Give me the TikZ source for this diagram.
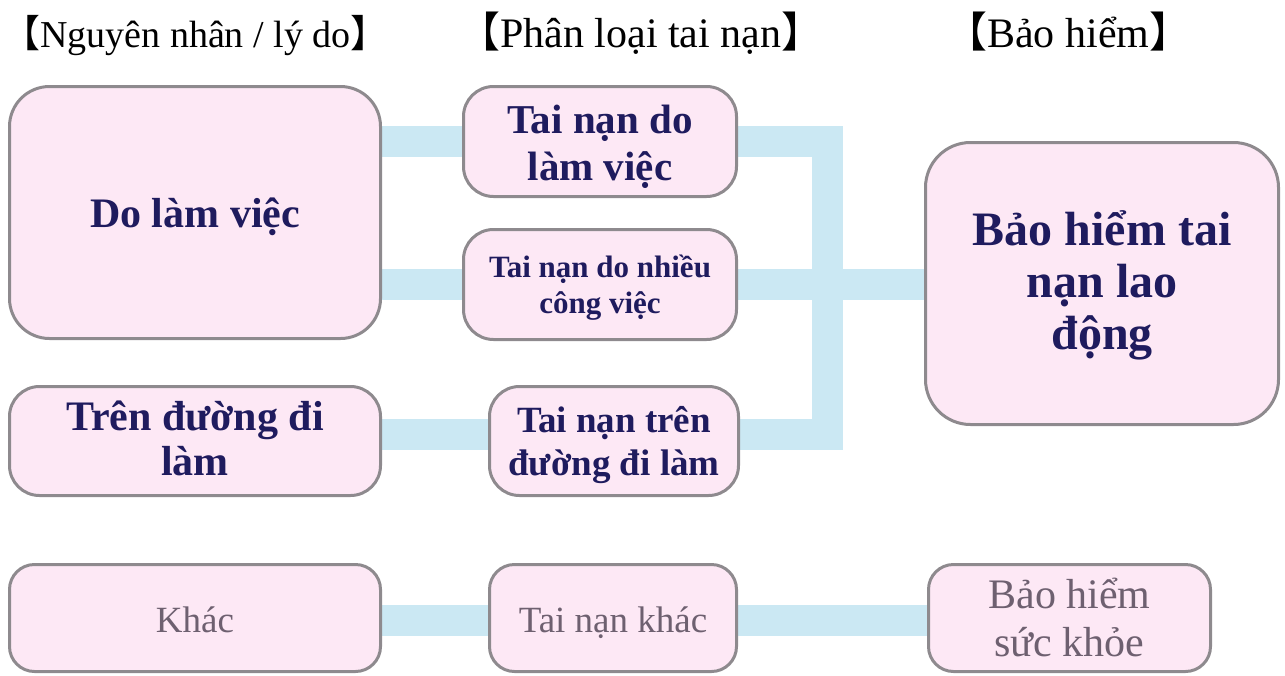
\documentclass[tikz,border=0pt]{standalone}
\usepackage{fontspec}
\setmainfont{Liberation Serif}
\newfontfamily\cjkbr{Noto Sans CJK SC}
\usetikzlibrary{backgrounds}
\definecolor{navy}{RGB}{31,27,94}
\definecolor{boxfill}{RGB}{253,232,245}
\definecolor{boxline}{RGB}{142,138,142}
\definecolor{bandblue}{RGB}{203,232,243}
\definecolor{softtext}{RGB}{110,96,112}
\newcommand\topstrut[1]{\rule{0pt}{#1}}
\newcommand\botstrut[1]{\rule[-#1]{0pt}{#1}}
\begin{document}
\begin{tikzpicture}[x=1pt,y=-1pt,
  box/.style={draw=boxline, line width=3pt, fill=boxfill, rounded corners=30pt,
    inner sep=0pt, align=center, text=navy},
  softbox/.style={box, text=softtext, font=\fontsize{37}{44}\selectfont, rounded corners=25pt},
  titletext/.style={inner sep=0pt, anchor=base west, text=black},
  conn/.style={draw=bandblue, line width=31pt, line join=miter, line cap=butt}]
\useasboundingbox (0,0) rectangle (1285,675);

% titles
\node[titletext, font=\fontsize{38}{44}\selectfont] (t1) at (2,47) {{\cjkbr 【}Nguyên nhân / lý do{\cjkbr 】}};
\node[titletext, font=\fontsize{42}{48}\selectfont] (t2) at (458,47) {{\cjkbr 【}Phân loại tai nạn{\cjkbr 】}};
\node[titletext, font=\fontsize{42}{48}\selectfont] (t3) at (945,47) {{\cjkbr 【}Bảo hiểm{\cjkbr 】}};

% boxes
\node[box, rounded corners=40pt, minimum width=371pt, minimum height=252pt,
  font=\fontsize{42}{49}\selectfont\bfseries] (A) at (195,212.5)
  {\topstrut{40pt}Do làm việc\botstrut{11pt}};
\node[box, minimum width=273pt, minimum height=110pt,
  font=\fontsize{41}{47}\selectfont\bfseries] (B) at (600,141.5)
  {\topstrut{40pt}Tai nạn do\\làm việc\botstrut{10pt}};
\node[box, minimum width=273pt, minimum height=110pt,
  font=\fontsize{31}{36}\selectfont\bfseries] (C) at (600,284.5)
  {\topstrut{32pt}Tai nạn do nhiều\\công việc\botstrut{11pt}};
\node[box, minimum width=371pt, minimum height=109pt,
  font=\fontsize{42}{45}\selectfont\bfseries] (D) at (195,441)
  {\topstrut{40pt}Trên đường đi\\làm\botstrut{17pt}};
\node[box, minimum width=249pt, minimum height=109pt,
  font=\fontsize{37}{43}\selectfont\bfseries] (E) at (614,441)
  {\topstrut{40pt}Tai nạn trên\\đường đi làm\botstrut{15pt}};
\node[box, rounded corners=45pt, minimum width=353pt, minimum height=282pt,
  font=\fontsize{48}{52}\selectfont\bfseries] (F) at (1102,283.5)
  {\topstrut{48pt}Bảo hiểm tai\\nạn lao\\động\botstrut{21pt}};

\node[softbox, minimum width=371pt, minimum height=107pt] (G) at (195,618)
  {\topstrut{40pt}Khác\botstrut{12pt}};
\node[softbox, minimum width=247pt, minimum height=107pt] (H) at (613,618)
  {\topstrut{40pt}Tai nạn khác\botstrut{12pt}};
\node[softbox, minimum width=282pt, minimum height=107pt,
  font=\fontsize{42}{48}\selectfont] (I) at (1069.5,618)
  {\topstrut{42pt}Bảo hiểm\\sức khỏe\botstrut{14pt}};

\coordinate (J) at (827.5,282);

\begin{scope}[on background layer]
  \draw[conn] (A.east |- B.west) -- (B.west);
  \draw[conn] (A.east |- C.west) -- (C.west);
  \draw[conn] ([yshift=7pt]D.east) -- ([yshift=7pt]E.west);
  \draw[conn] (B.east) -| (J) |- ([yshift=7pt]E.east);
  \draw[conn] (C.east) -- (C.east -| F.west);
  \draw[conn] ([yshift=-2pt]G.east) -- ([yshift=-2pt]H.west);
  \draw[conn] ([yshift=-2pt]H.east) -- ([yshift=-2pt]I.west);
\end{scope}
\end{tikzpicture}
\end{document}
